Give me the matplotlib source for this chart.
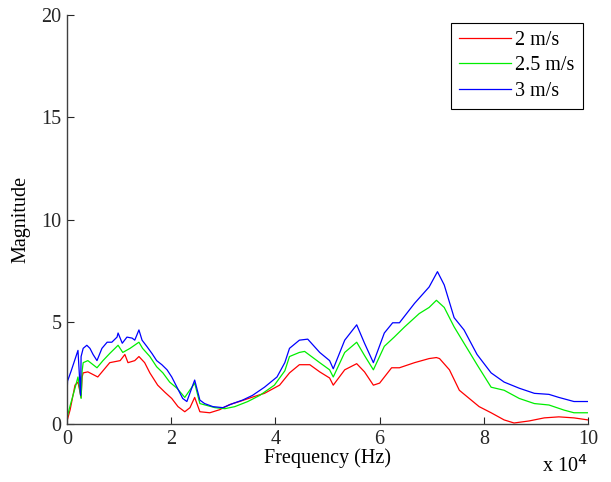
import matplotlib.pyplot as plt

plt.rcParams['font.family'] = ['Liberation Serif', 'DejaVu Serif']
plt.rcParams['font.size'] = 14.5

# frequency in units of 1e4 Hz, magnitude
freq_2 = [0, 0.06, 0.153, 0.21, 0.27, 0.29, 0.31, 0.40, 0.59, 0.82, 1.02, 1.11, 1.17,
          1.30, 1.38, 1.49, 1.59, 1.74, 1.88, 2.01, 2.13, 2.26, 2.36, 2.45, 2.55,
          2.74, 2.93, 3.12, 3.31, 3.60, 3.79, 4.08, 4.27, 4.46, 4.66, 4.85, 5.04,
          5.11, 5.33, 5.56, 5.71, 5.88, 6.00, 6.23, 6.38, 6.67, 6.95, 7.09, 7.15,
          7.34, 7.53, 7.72, 7.91, 8.14, 8.39, 8.58, 8.87, 9.16, 9.44, 9.73, 10.0]
mag_2 = [0.15, 0.7, 1.9, 2.05, 1.3, 2.3, 2.5, 2.55, 2.3, 3.0, 3.1, 3.4, 3.0,
         3.1, 3.3, 3.0, 2.5, 1.9, 1.55, 1.25, 0.85, 0.6, 0.8, 1.3, 0.6,
         0.55, 0.7, 0.95, 1.1, 1.35, 1.5, 1.9, 2.5, 2.9, 2.9, 2.55, 2.25,
         1.9, 2.65, 2.95, 2.55, 1.9, 2.0, 2.75, 2.75, 3.0, 3.2, 3.25, 3.2,
         2.65, 1.65, 1.25, 0.85, 0.55, 0.2, 0.05, 0.15, 0.3, 0.35, 0.3, 0.2]

freq_25 = [0, 0.06, 0.153, 0.21, 0.27, 0.29, 0.31, 0.40, 0.575, 0.69, 0.82, 0.98,
           1.07, 1.21, 1.38, 1.45, 1.59, 1.72, 1.84, 1.97, 2.11, 2.26, 2.45, 2.55,
           2.84, 3.03, 3.22, 3.47, 3.70, 3.98, 4.18, 4.27, 4.46, 4.56, 4.85, 5.04,
           5.11, 5.33, 5.56, 5.71, 5.88, 6.09, 6.28, 6.48, 6.76, 6.95, 7.09, 7.24,
           7.43, 7.62, 7.87, 8.14, 8.39, 8.68, 8.97, 9.25, 9.54, 9.73, 10.0]
mag_25 = [0.3, 0.9, 1.75, 2.3, 1.25, 2.6, 3.0, 3.1, 2.75, 3.1, 3.45, 3.85,
          3.5, 3.7, 4.0, 3.7, 3.3, 2.8, 2.5, 2.05, 1.75, 1.3, 2.0, 1.0,
          0.8, 0.75, 0.85, 1.1, 1.4, 1.9, 2.6, 3.3, 3.5, 3.55, 3.0, 2.65,
          2.3, 3.5, 4.0, 3.35, 2.65, 3.8, 4.25, 4.75, 5.4, 5.7, 6.05, 5.7,
          4.75, 3.95, 2.9, 1.8, 1.65, 1.25, 1.0, 0.93, 0.68, 0.55, 0.55]

freq_3 = [0, 0.01, 0.08, 0.21, 0.26, 0.27, 0.31, 0.38, 0.44, 0.50, 0.575, 0.67,
          0.77, 0.86, 0.96, 0.98, 1.06, 1.15, 1.25, 1.30, 1.38, 1.44, 1.53, 1.63,
          1.72, 1.82, 1.92, 2.01, 2.11, 2.22, 2.30, 2.45, 2.55, 2.64, 2.80, 2.99,
          3.18, 3.37, 3.56, 3.79, 4.03, 4.18, 4.27, 4.46, 4.62, 4.85, 5.04, 5.11,
          5.33, 5.56, 5.71, 5.88, 6.09, 6.25, 6.38, 6.67, 6.95, 7.11, 7.24, 7.43,
          7.62, 7.87, 8.14, 8.39, 8.68, 8.97, 9.25, 9.44, 9.73, 10.0]
mag_3 = [1.4, 2.1, 2.6, 3.6, 1.4, 3.3, 3.7, 3.85, 3.7, 3.4, 3.1, 3.7,
         4.0, 4.0, 4.25, 4.45, 3.95, 4.25, 4.2, 4.1, 4.6, 4.1, 3.8, 3.45,
         3.1, 2.9, 2.65, 2.3, 1.8, 1.25, 1.1, 2.15, 1.17, 1.0, 0.85, 0.8,
         1.0, 1.17, 1.4, 1.8, 2.3, 3.0, 3.7, 4.1, 4.15, 3.5, 3.1, 2.7,
         4.1, 4.85, 3.95, 3.0, 4.45, 4.95, 4.95, 5.9, 6.7, 7.45, 6.8, 5.2,
         4.6, 3.4, 2.5, 2.05, 1.75, 1.5, 1.45, 1.3, 1.1, 1.1]

labels = ['2 m/s', '2.5 m/s', '3 m/s']
colors = ['#ff0000', '#00ee00', '#0000ff']

fig = plt.figure(figsize=(6.11, 4.82), dpi=100)
ax = fig.add_axes([0.1097, 0.1203, 0.8527, 0.8486])

series = [(freq_2, mag_2), (freq_25, mag_25), (freq_3, mag_3)]
for (f, m), lab, c in zip(series, labels, colors):
    ax.plot([x * 1e4 for x in f], m, color=c, lw=0.9, label=lab)

ax.set_xlim(0, 1e5)
ax.set_ylim(0, 20)
ax.set_xticks([0, 2e4, 4e4, 6e4, 8e4, 1e5])
ax.set_xticklabels(['0', '2', '4', '6', '8', '10'])
ax.set_yticks([0, 5, 10, 15, 20])
ax.tick_params(direction='in', length=5, width=0.8, colors='#262626', pad=4)
for s in ['top', 'right']:
    ax.spines[s].set_visible(False)
for s in ['left', 'bottom']:
    ax.spines[s].set_color('#404040')
    ax.spines[s].set_linewidth(1.0)

ax.set_xlabel('Frequency (Hz)', labelpad=0)
ax.set_ylabel('Magnitude', labelpad=8)
ax.text(1.0, -0.075, r'x 10$^4$', transform=ax.transAxes, ha='right', va='top')

leg = ax.legend(loc='upper right', bbox_to_anchor=(0.99, 0.98), borderaxespad=0,
                fancybox=False, edgecolor='black', framealpha=1, handlelength=2.6,
                borderpad=0.4, labelspacing=0.3, handletextpad=0.2)
leg.get_frame().set_linewidth(0.8)

fig.savefig('out.png', dpi=100)
